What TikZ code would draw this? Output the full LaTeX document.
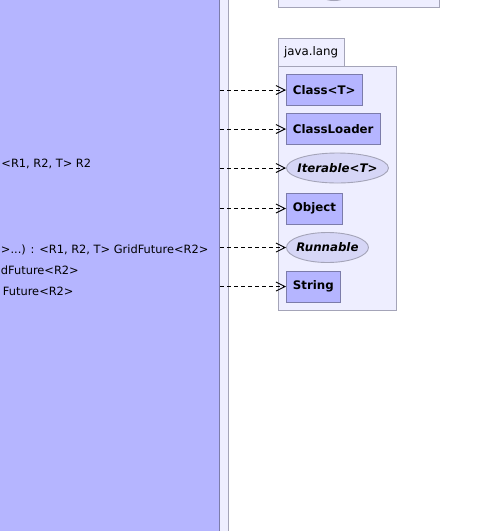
\documentclass[tikz,border=0pt]{standalone}
\usepackage{fontspec}
\setmainfont{DejaVu Sans}
\usetikzlibrary{shapes.geometric,arrows.meta}
\definecolor{clsblue}{RGB}{181,181,255}
\definecolor{pkgfill}{RGB}{238,238,255}
\definecolor{pkgline}{RGB}{164,164,184}
\definecolor{clsline}{RGB}{124,124,170}
\definecolor{ifcfill}{RGB}{214,214,246}
\tikzset{
  cls/.style={draw=clsline,fill=clsblue,anchor=west,inner xsep=6.5pt,minimum height=31pt,font=\bfseries},
  ifc/.style={ellipse,draw=pkgline,fill=ifcfill,anchor=west,inner xsep=-12pt,inner ysep=0pt,minimum height=30pt,font=\bfseries\itshape},
  dep/.style={line width=0.9pt,dash pattern=on 4pt off 3pt,-{Straight Barb[length=9pt,width=9pt]}},
  member/.style={anchor=west,inner sep=0pt,font=\fontsize{11.4}{14}\selectfont}
}
\begin{document}
\begin{tikzpicture}[x=1pt,y=-1pt,line width=0.9pt]
\fontsize{11.8}{14}\selectfont
\useasboundingbox (0,0) rectangle (499,531);

\draw[draw=pkgline,fill=pkgfill] (-10,-10) rectangle (228,541);
\node[draw=clsline,fill=clsblue,anchor=north east,minimum width=250pt,minimum height=560pt] (gridcls) at (220,-10) {};
\node[member] (rone) at (1,164) {<R1, R2, T> R2};
\node[member] (rtwo) at (0.5,250) {>...) : <R1, R2, T> GridFuture<R2>};
\node[member] (rthree) at (0.5,270) {dFuture<R2>};
\node[member] (rfour) at (2.5,291) {Future<R2>};

\draw[draw=pkgline,fill=pkgfill] (278,-10) rectangle (439,7);
\begin{scope}
\clip (278,-10) rectangle (439,7);
\node[ellipse,fill=pkgline,minimum width=32pt,minimum height=18pt] (topifc) at (334,-8) {};
\end{scope}

\draw[draw=pkgline,fill=pkgfill] (278,38) rectangle (344,66) node[midway] (langtab) {java.lang};
\draw[draw=pkgline,fill=pkgfill] (278,66) rectangle (396,310);

\node[cls] (clsT) at (286,90) {Class<T>};
\node[cls] (loader) at (286,129) {ClassLoader};
\node[ifc,minimum width=102pt] (iter) at (286,168) {Iterable<T>};
\node[cls] (object) at (286,208.5) {Object};
\node[ifc,minimum width=82pt] (runnable) at (286,247.5) {Runnable};
\node[cls] (string) at (286,286.5) {String};

\draw[dep] (gridcls.east |- clsT.west) -- (clsT.west);
\draw[dep] (gridcls.east |- loader.west) -- (loader.west);
\draw[dep] (gridcls.east |- iter.west) -- (iter.west);
\draw[dep] (gridcls.east |- object.west) -- (object.west);
\draw[dep] (gridcls.east |- runnable.west) -- (runnable.west);
\draw[dep] (gridcls.east |- string.west) -- (string.west);
\end{tikzpicture}
\end{document}
